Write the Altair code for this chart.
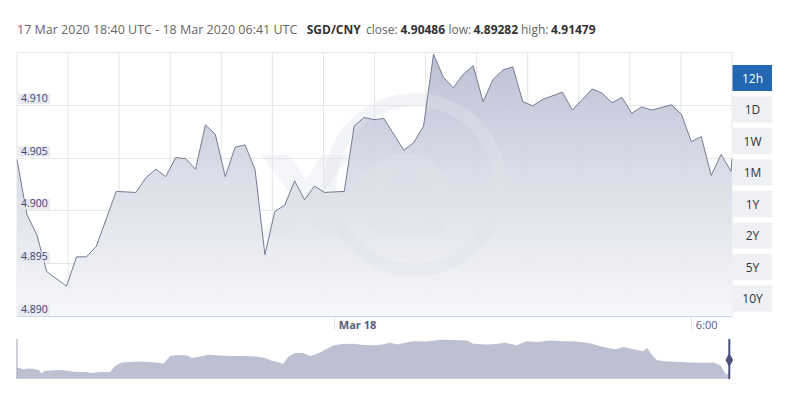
import altair as alt
import pandas as pd

# ---- main series: minutes after 17 Mar 2020 18:40 UTC, SGD/CNY rate
minutes = [0, 10, 20, 30, 50, 60, 70, 80, 100, 120, 130, 140, 150, 160, 170, 180,
           190, 200, 210, 220, 230, 240, 250, 260, 270, 280, 290, 300, 310, 330,
           340, 350, 360, 370, 390, 400, 410, 420, 430, 440, 450, 460, 470, 480,
           490, 500, 510, 520, 530, 550, 560, 570, 580, 590, 600, 610, 620, 630,
           640, 660, 670, 680, 690, 700, 710, 720, 721]
rates = [4.9048, 4.8996, 4.8977, 4.8942, 4.89282, 4.8956, 4.8956, 4.8966, 4.9018,
         4.9017, 4.9031, 4.9039, 4.9032, 4.9050, 4.9049, 4.9039, 4.9081, 4.9072,
         4.9032, 4.9060, 4.9062, 4.9039, 4.8958, 4.8999, 4.9005, 4.9028, 4.9010,
         4.9023, 4.9017, 4.9018, 4.9080, 4.9088, 4.9086, 4.9087, 4.9057, 4.9064,
         4.9080, 4.91479, 4.9126, 4.9116, 4.9129, 4.9137, 4.9103, 4.9124, 4.9133,
         4.9136, 4.9103, 4.9099, 4.9105, 4.9112, 4.9095, 4.9105, 4.9115, 4.9111,
         4.9102, 4.9107, 4.9092, 4.9098, 4.9095, 4.9100, 4.9091, 4.9065, 4.9070,
         4.9033, 4.9053, 4.9037, 4.90486]

# ---- axis / grid values
grid_minutes = [0, 51.5, 103, 154.5, 206, 257.5, 309, 360.5, 412, 463.5, 515,
                566.5, 618, 669.5, 721]
y_ticks = [4.890, 4.895, 4.900, 4.905, 4.910, 4.915]
y_labels = [4.890, 4.895, 4.900, 4.905, 4.910]
x_label_minutes = [320, 680]
x_label_text = ["Mar 18", "6:00"]

# ---- navigator series (hours, level)
nav_hours = [0, 3, 6, 11, 16, 22, 25, 28, 37, 45, 52, 60, 69, 76, 84, 94, 99, 106,
             114, 123, 131, 141, 148, 155, 163, 172, 177, 183, 192, 195, 205, 215,
             229, 242, 251, 258, 264, 269, 274, 281, 289, 296, 303, 311, 320, 330,
             340, 350, 360, 369, 377, 385, 387, 401, 414, 428, 441, 455, 461, 475,
             485, 493, 505, 515, 525, 539, 552, 566, 579, 589, 599, 606, 613, 623,
             633, 637, 642, 647, 657, 670, 680, 694, 704, 711, 714, 717, 720]
nav_level = [10.7, 10.7, 9.4, 10.2, 10.0, 8.7, 5.0, 8.0, 8.4, 8.7, 7.7, 6.7, 6.7,
             5.7, 6.7, 6.7, 12.7, 16.2, 16.7, 17.2, 16.7, 16.2, 15.0, 22.7, 23.7,
             23.2, 20.7, 21.7, 23.7, 24.0, 23.2, 22.7, 22.7, 22.2, 20.7, 17.7, 16.7,
             14.7, 21.7, 25.7, 25.7, 22.7, 24.7, 28.7, 33.4, 34.7, 35.0, 33.7, 33.4,
             34.2, 36.0, 34.2, 35.0, 37.4, 37.2, 39.0, 38.7, 38.2, 35.0, 34.2, 34.7,
             36.0, 33.4, 37.4, 36.7, 38.2, 37.4, 37.2, 35.5, 32.7, 30.2, 29.4, 31.7,
             29.4, 27.4, 30.7, 23.4, 18.4, 17.2, 16.7, 16.2, 16.0, 16.2, 13.4, 8.4,
             3.7, 6.7]

buttons = ["12h", "1D", "1W", "1M", "1Y", "2Y", "5Y", "10Y"]

header_parts = [
    ("17 Mar 2020 18:40 UTC - 18 Mar 2020 06:41 UTC", "normal", 0, 12.5),
    ("SGD/CNY", "bold", 289.7, 12),
    ("close:", "normal", 349, 12),
    ("4.90486", "bold", 383.5, 12),
    ("low:", "normal", 431.5, 12),
    ("4.89282", "bold", 456.5, 12),
    ("high:", "normal", 504, 12),
    ("4.91479", "bold", 534, 12),
]

FONT = "Open Sans"
df = pd.DataFrame({"t": minutes, "rate": rates})
one = pd.DataFrame({"a": [0]})

xs = alt.Scale(domain=[0, 721], nice=False, zero=False)
ys = alt.Scale(domain=[4.890, 4.915], nice=False, zero=False)

x_axis = alt.Axis(values=x_label_minutes,
                  labelExpr="datum.value == 320 ? 'Mar 18' : '6:00'",
                  grid=False, title=None, domainColor="#ccd6eb", tickColor="#dde2ee",
                  tickSize=14, labelAlign="left", labelOffset=4, labelPadding=-11,
                  labelBaseline="top", labelFontSize=11, labelColor="#555a7c",
                  labelFlush=False, labelFont=FONT,
                  labelFontWeight={"condition": {"test": "datum.value == 320", "value": "bold"},
                                   "value": "normal"})
y_axis = alt.Axis(values=y_ticks, grid=True, gridColor="#e6e6e6", labels=False,
                  ticks=False, domain=False, title=None)

X = alt.X("t:Q", scale=xs, axis=x_axis)
Y = alt.Y("rate:Q", scale=ys, axis=y_axis)

vgrid = alt.Chart(pd.DataFrame({"t": grid_minutes})).mark_rule(
    color="#e6e6e6", strokeWidth=1).encode(x=X)

grad = alt.Gradient(gradient="linear",
                    stops=[alt.GradientStop(color="#b6bbcf", offset=0),
                           alt.GradientStop(color="#d7dae5", offset=0.45),
                           alt.GradientStop(color="#f6f7fa", offset=1)],
                    x1=1, x2=1, y1=0, y2=1)
area = alt.Chart(df).mark_area(color=grad, opacity=0.92).encode(
    x=X, y=Y, y2=alt.datum(4.890))

wm_ring = alt.Chart(one).mark_point(
    shape="circle", size=29000, filled=False, strokeWidth=13,
    color="#e2e4ec", opacity=0.4).encode(x=alt.value(398), y=alt.value(133))
wm_text = alt.Chart(one).mark_text(
    text="xe", font="DejaVu Sans", fontWeight="bold", fontSize=150,
    align="center", baseline="alphabetic", color="#e2e4ec", opacity=0.35
).encode(x=alt.value(340), y=alt.value(185))

line = alt.Chart(df).mark_line(color="#767b94", strokeWidth=1).encode(x=X, y=Y)

lab_df = pd.DataFrame({"rate": y_labels})
lab_box = alt.Chart(lab_df).mark_point(
    shape="M-1,-0.33H1V0.33H-1Z", size=1024, filled=True, color="#e4e6ef",
    opacity=0.85, yOffset=-6).encode(x=alt.value(17), y=Y)
lab_txt = alt.Chart(lab_df).mark_text(
    align="left", baseline="middle", fontSize=10.5, font=FONT, color="#3f4474",
    yOffset=-6).encode(x=alt.value(4), y=Y, text=alt.Text("rate:Q", format=".3f"))

layers = [vgrid, area, wm_ring, wm_text, line, lab_box, lab_txt]

for i, b in enumerate(buttons):
    top = 13 + i * 31.5
    sel = i == 0
    layers.append(alt.Chart(one).mark_rect(color="#2167b1" if sel else "#eef0f4").encode(
        x=alt.value(715.5), x2=alt.value(755), y=alt.value(top), y2=alt.value(top + 26)))
    layers.append(alt.Chart(one).mark_text(
        text=b, font=FONT, fontSize=12, align="center", baseline="middle",
        color="#ffffff" if sel else "#333333").encode(
        x=alt.value(735.5), y=alt.value(top + 13.5)))

for txt, wt, xpos, fs in header_parts:
    layers.append(alt.Chart(one).mark_text(
        text=txt, font=FONT, fontSize=fs, fontWeight=wt,
        align="left", baseline="middle",
        color="#333333" if wt == "bold" else "#666666").encode(
        x=alt.value(xpos), y=alt.value(-22)))

main = alt.layer(*layers)

# ---- navigator
nav_df = pd.DataFrame({"t": nav_hours, "lvl": nav_level})
nx = alt.Scale(domain=[0, 720], range=[0, 712.3], nice=False, zero=False)
ny = alt.Scale(domain=[0, 40], range=[326.7, 286.7], nice=False)
NX = alt.X("t:Q", scale=nx, axis=None)
NY = alt.Y("lvl:Q", scale=ny, axis=None)
nav_area = alt.Chart(nav_df).mark_area(color="#bcc0d0").encode(x=NX, y=NY)
nav_left = alt.Chart(pd.DataFrame({"t": [nav_hours[0]]})).mark_rule(
    color="#9a9eb2", strokeWidth=1).encode(x=NX, y=alt.value(287), y2=alt.value(327))
nav_handle = alt.Chart(pd.DataFrame({"t": [nav_hours[-1]]})).mark_rule(
    color="#4b5280", strokeWidth=2).encode(x=NX, y=alt.value(287), y2=alt.value(327))
nav_knob = alt.Chart(pd.DataFrame({"t": [nav_hours[-1]]})).mark_point(
    shape="M0,-1L0.55,0L0,1L-0.55,0Z", size=196, filled=True, color="#4b5280",
    opacity=1).encode(x=NX, y=alt.value(308))
nav = alt.layer(nav_area, nav_left, nav_handle, nav_knob)

chart = alt.layer(main, nav).resolve_scale(x="independent", y="independent").properties(
    width=715, height=264,
    autosize=alt.AutoSizeParams(type="none"),
    padding={"left": 9, "top": 44, "right": 58, "bottom": 76},
    background="#ffffff",
).configure_view(strokeWidth=0)

chart.save("out.html", embed_options={"renderer": "svg", "actions": False})
